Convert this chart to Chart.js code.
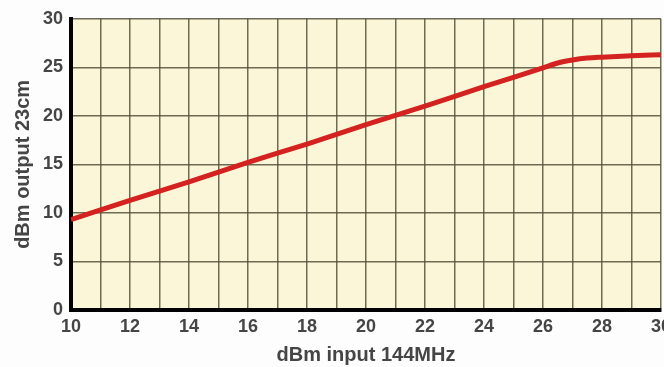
<!DOCTYPE html>
<html>
<head>
<meta charset="utf-8">
<script src="https://cdn.jsdelivr.net/npm/chart.js@4.4.0/dist/chart.umd.min.js"></script>
<style>
  html, body { margin: 0; padding: 0; background: #fdfdfd; overflow: hidden; width: 664px; height: 367px; }
  #wrap { position: absolute; left: 0; top: 0; width: 677px; height: 367px; }
</style>
</head>
<body>
<div id="wrap"><canvas id="c" width="677" height="367"></canvas></div>
<script>
const inputDbm  = [10, 12, 14, 16, 18, 20, 22, 24, 26, 26.5, 27, 27.5, 28, 29, 30];
const outputDbm = [9.3, 11.3, 13.2, 15.2, 17.1, 19.1, 21.0, 23.0, 24.95, 25.45, 25.75, 25.95, 26.05, 26.2, 26.3];
const xTitle = 'dBm input 144MHz';
const yTitle = 'dBm output 23cm';
const xRange = [10, 30];
const yRange = [0, 30];

const points = inputDbm.map((x, i) => ({ x: x, y: outputDbm[i] }));

const plotBg = {
  id: 'plotBg',
  beforeDraw(chart) {
    const a = chart.chartArea, ctx = chart.ctx;
    ctx.save();
    ctx.fillStyle = '#fcf6d8';
    ctx.fillRect(a.left, a.top, a.right - a.left, a.bottom - a.top);
    ctx.restore();
  }
};

const tickFont = { family: '"Liberation Sans", Arial, sans-serif', size: 18, weight: 'bold' };
const titleFont = { family: '"Liberation Sans", Arial, sans-serif', size: 20, weight: 'bold' };
const textColor = '#454545';
const gridColor = 'rgba(85,82,60,0.85)';

new Chart(document.getElementById('c'), {
  type: 'line',
  data: {
    datasets: [{
      data: points,
      borderColor: '#d42220',
      borderWidth: 5,
      pointRadius: 0,
      cubicInterpolationMode: 'monotone',
      fill: false
    }]
  },
  options: {
    responsive: false,
    animation: false,
    layout: { padding: { top: 7, left: 0, right: 0, bottom: 0 } },
    plugins: { legend: { display: false }, tooltip: { enabled: false } },
    scales: {
      x: {
        type: 'linear',
        min: xRange[0], max: xRange[1],
        ticks: {
          stepSize: 1, autoSkip: false, maxRotation: 0,
          color: textColor, font: tickFont, padding: 6,
          callback: v => (v % 2 === 0 ? String(v) : '')
        },
        grid: { color: gridColor, lineWidth: 1.5, drawTicks: false },
        border: { display: true, color: '#000', width: 4 },
        title: { display: true, text: xTitle, color: textColor, font: titleFont, padding: { top: 2, bottom: 0 } },
        afterFit: s => { s.height = 57; }
      },
      y: {
        type: 'linear',
        min: yRange[0], max: yRange[1],
        ticks: { stepSize: 5, color: textColor, font: tickFont, padding: 8 },
        grid: { color: gridColor, lineWidth: 1.5, drawTicks: false },
        border: { display: true, color: '#000', width: 4 },
        title: { display: true, text: yTitle, color: textColor, font: titleFont, padding: { top: 11, bottom: 0 } },
        afterFit: s => { s.width = 71; }
      }
    }
  },
  plugins: [plotBg]
});
</script>
</body>
</html>
